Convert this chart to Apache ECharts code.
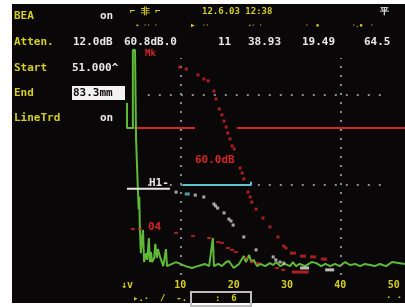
<!DOCTYPE html>
<html><head><meta charset="utf-8">
<script src="https://cdn.jsdelivr.net/npm/echarts@6/dist/echarts.min.js"></script>
<style>
html,body{margin:0;padding:0;background:#fff;}
#wrap{position:relative;width:405px;height:307px;background:#fff;overflow:hidden;}
#scr{position:absolute;left:12px;top:4px;width:393px;height:299px;background:#0a0709;}
#c{position:absolute;left:0;top:0;width:405px;height:307px;}
</style></head>
<body><div id="wrap"><div id="scr"></div><div id="c"></div></div>
<script>
// ---- data (x: sound path, y: amplitude %) ----
const xTickLabels = ['↓v', '10', '20', '30', '40', '50'];
const ascanX = [0,0,0,1.1,1.1,1.5,1.7,2.1,2.2,2.3,2.4,2.6,2.8,3.0,3.2,3.6,3.8,4.1,4.3,4.5,4.7,5.1,5.3,5.6,5.8,6.2,6.4,6.8,7.3,7.5,9.2,10.0,11.0,12.2,12.8,14.6,15.4,16.1,16.3,17.1,17.8,18.6,19.1,20.0,21.0,21.9,22.3,22.9,23.3,23.7,24.4,25.0,25.9,26.8,27.4,28.0,28.7,29.6,30.6,31.1,31.7,32.4,33.4,34.6,35.5,36.4,37.2,38.1,39.0,39.9,40.9,41.8,42.8,43.7,44.6,45.6,46.5,47.4,48.6,49.7,52.1];
const ascanY = [54.4,63.7,54.4,54.4,83.3,83.3,50.4,28.5,24.4,29.0,18.1,8.1,13.0,16.7,4.8,8.1,5.6,13.7,4.8,8.5,4.8,6.3,11.5,6.3,9.6,6.7,7.0,3.3,9.6,3.3,4.8,4.1,3.3,2.6,3.0,4.1,3.3,13.7,3.3,4.1,3.3,4.8,5.2,2.6,4.1,7.0,4.8,7.4,4.8,5.6,3.3,4.1,3.3,4.4,3.7,4.8,3.3,4.1,3.3,4.8,3.3,4.1,3.3,4.8,4.4,3.3,4.1,3.3,4.1,3.3,4.8,3.7,4.1,3.3,4.1,3.7,3.3,4.1,3.3,4.8,4.1];
const dacX = [9.9,11.1,13.3,14.4,15.2,16.3,16.7,17.3,17.8,18.2,18.6,18.9,19.3,19.7,20.1,21.2,21.6,21.9,22.7,23.1,23.4,24.2,25.5,26.8,28.3,29.4,29.8];
const dacY = [77.0,76.3,74.1,72.6,71.9,68.1,65.2,61.5,59.3,57.0,54.8,52.6,50.4,47.8,46.7,39.6,37.8,35.6,30.7,28.9,27.0,24.4,21.1,17.8,14.1,10.7,10.0];
const dacTailX = [31.1,33.0,34.9,36.9];
const dacTailY = [8.1,7.0,6.7,5.9];
const lowRedX = [1.1,2.4,9.2,12.4,15.4,17.1,17.8,18.9,19.7,20.4,22.3,23.4,24.6,28.1,29.3];
const lowRedY = [17.0,17.0,15.6,14.4,13.7,12.2,11.9,10.0,9.3,8.5,6.3,4.8,4.4,2.6,1.9];
const lowRedBarX = [32.5];
const lowRedBarY = [1.1];
const whiteX = [9.2,12.8,14.4,16.3,16.6,17.0,18.2,19.1,19.5,19.9,21.9,24.2,27.4,27.9,28.7,29.4];
const whiteY = [30.7,29.6,28.9,26.3,25.6,24.8,23.0,20.7,20.0,18.5,14.1,9.3,6.7,5.6,4.8,4.4];
const whiteBarX = [33.3,38.0];
const whiteBarY = [2.6,1.9];
const gateLevel = 54.4;
const gateSegments = [[0,12.75],[20.6,52.1]];
const cyanLevel = 33.3;
const cyanRange = [10.5,23.25];
const refLevel = 31.9;
const refRange = [0,8.06];
const gridX = [10,40];
const gridY = [33.33,66.67];

const YEL = '#d6ce1e', RED = '#d42424', GRN = '#5fba37', WHT = '#e8e8e8', GRY = '#8c8c8c', CYN = '#5ec4d2';
const F = 'bold 11px "DejaVu Sans Mono", monospace';
const FS = 'bold 9px "DejaVu Sans Mono", monospace';

const zip = (a, b) => a.map((v, i) => [v, b[i]]);

const chart = echarts.init(document.getElementById('c'), null, {renderer: 'canvas'});

const series = [];
// dotted grid lines
series.push({
  type: 'line', data: [], silent: true,
  markLine: {
    silent: true, symbol: 'none', label: {show: false},
    lineStyle: {color: GRY, type: [2, 7], width: 2},
    data: gridX.map(x => [{coord: [x, 0]}, {coord: [x, 80.4]}])
  }
});
series.push({
  type: 'line', data: [], silent: true,
  markLine: {
    silent: true, symbol: 'none', label: {show: false},
    lineStyle: {color: GRY, type: [2, 9], width: 2},
    data: gridY.map(y => [{coord: [3.9, y]}, {coord: [48, y]}])
  }
});
// gate segments
gateSegments.forEach(s => series.push({
  type: 'line', data: [[s[0], gateLevel], [s[1], gateLevel]], showSymbol: false,
  lineStyle: {color: RED, width: 2}, z: 3, silent: true
}));
// A-scan
series.push({
  type: 'line', data: zip(ascanX, ascanY), showSymbol: false,
  lineStyle: {color: GRN, width: 2}, z: 4, silent: true
});
// DAC curve
series.push({type: 'scatter', data: zip(dacX, dacY), symbol: 'rect', symbolSize: 3, itemStyle: {color: RED}, z: 5, silent: true});
series.push({type: 'scatter', data: zip(dacTailX, dacTailY), symbol: 'rect', symbolSize: [6, 3], itemStyle: {color: RED}, z: 5, silent: true});
// lower red curve
series.push({type: 'scatter', data: zip(lowRedX, lowRedY), symbol: 'rect', symbolSize: [4, 2], itemStyle: {color: RED}, z: 5, silent: true});
series.push({type: 'scatter', data: zip(lowRedBarX, lowRedBarY), symbol: 'rect', symbolSize: [17, 3], itemStyle: {color: RED}, z: 5, silent: true});
// white curve
series.push({type: 'scatter', data: zip(whiteX, whiteY), symbol: 'rect', symbolSize: 3, itemStyle: {color: '#cfcfcf'}, z: 6, silent: true});
series.push({type: 'scatter', data: zip(whiteBarX, whiteBarY), symbol: 'rect', symbolSize: [9, 3], itemStyle: {color: WHT}, z: 6, silent: true});
// cyan line
series.push({
  type: 'line', data: [[cyanRange[0], cyanLevel], [cyanRange[1], cyanLevel], [cyanRange[1], cyanLevel + 1.2]],
  showSymbol: false, lineStyle: {color: CYN, width: 2}, z: 6, silent: true
});
series.push({type: 'scatter', data: [[11.3, 30.0]], symbol: 'rect', symbolSize: [5, 3], itemStyle: {color: CYN}, z: 6, silent: true});
// white reference line
series.push({
  type: 'line', data: [[refRange[0], refLevel], [refRange[1], refLevel]],
  showSymbol: false, lineStyle: {color: WHT, width: 2}, z: 6, silent: true
});

function t(x, y, text, fill, font, extra) {
  return Object.assign({type: 'text', x, y, z: 50, style: {text, fill, font, verticalAlign: 'middle'}}, extra || {});
}

const graphic = [
  t(14, 16, 'BEA', YEL, F), t(100, 16, 'on', WHT, F),
  t(130, 12, '⌐ 非 ⌐', YEL, FS), t(202, 12, '12.6.03 12:38', YEL, FS), t(380, 12, '平', WHT, FS),
  t(136, 25, '▸ ·· ·', YEL, 'bold 6px "DejaVu Sans Mono"'), t(191, 25, '▶', YEL, 'bold 6px "DejaVu Sans Mono"'),
  t(202, 25, '··', YEL, 'bold 6px "DejaVu Sans Mono"'), t(248, 25, '-· ·', YEL, 'bold 6px "DejaVu Sans Mono"'),
  t(305, 25, '·  ▪', YEL, 'bold 6px "DejaVu Sans Mono"'), t(352, 25, '·.▪  ·', YEL, 'bold 6px "DejaVu Sans Mono"'),
  t(14, 42, 'Atten.', YEL, F), t(73, 42, '12.0dB', WHT, F), t(124, 42, '60.8dB.0', WHT, F),
  t(218, 42, '11', WHT, F), t(248, 42, '38.93', WHT, F), t(302, 42, '19.49', WHT, F), t(364, 42, '64.5', WHT, F),
  t(14, 68, 'Start', YEL, F), t(72, 68, '51.000^', WHT, F),
  {type: 'rect', z: 49, shape: {x: 72, y: 86, width: 53, height: 14}, style: {fill: '#f2f2f2'}},
  t(14, 93, 'End', YEL, F), t(73, 93, '83.3mm', '#0a0709', F),
  t(14, 118, 'LineTrd', YEL, F), t(100, 118, 'on', WHT, F),
  t(145, 54, 'Mk', RED, FS),
  t(195, 160, '60.0dB', RED, F),
  t(148, 227, '04', RED, F),
  t(149, 183, 'H1-', WHT, F),
  t(133, 299, '▸.·  /  -.', YEL, FS),
  {type: 'rect', z: 49, shape: {x: 191, y: 292, width: 60, height: 14}, style: {fill: 'none', stroke: '#bdbdbd', lineWidth: 2}},
  t(215, 299, ':  6', YEL, FS),
  t(386, 298, '· ·', YEL, FS)
];

chart.setOption({
  animation: false,
  backgroundColor: 'transparent',
  grid: {left: 127, right: 0, top: 5, bottom: 32, containLabel: false},
  xAxis: {
    type: 'value', min: 0, max: 52.125, interval: 10,
    axisLine: {show: false}, axisTick: {show: false}, splitLine: {show: false},
    axisLabel: {
      color: YEL, fontFamily: 'DejaVu Sans Mono', fontWeight: 'bold', fontSize: 10, margin: 5,
      showMaxLabel: false,
      formatter: v => xTickLabels[Math.round(v / 10)] || ''
    }
  },
  yAxis: {type: 'value', min: 0, max: 100, show: false},
  series,
  graphic
});
</script></body></html>
